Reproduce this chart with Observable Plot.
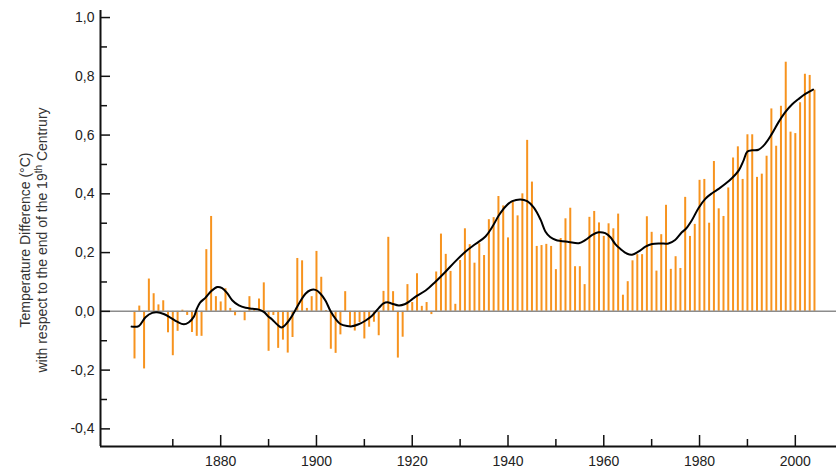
<!DOCTYPE html>
<html><head><meta charset="utf-8">
<script src="https://cdn.jsdelivr.net/npm/d3@7"></script>
<script src="https://cdn.jsdelivr.net/npm/@observablehq/plot@0.6"></script>
<style>
html,body{margin:0;padding:0;background:#fff;}
#chart{width:836px;height:470px;}
</style></head><body><div id="chart"></div>
<script>
// ---- data ----
const firstYear = 1862;
const anomalies = [
-0.162,0.018,-0.196,0.110,0.060,0.022,0.036,-0.073,-0.151,-0.068,
0.004,-0.014,-0.072,-0.085,-0.085,0.210,0.323,0.050,0.032,0.077,
0.010,-0.015,-0.004,-0.032,0.050,0.004,0.042,0.097,-0.136,-0.014,
-0.126,-0.098,-0.142,-0.089,0.180,0.172,0.010,0.050,0.204,0.116,
0.003,-0.129,-0.143,-0.080,0.067,-0.054,-0.067,-0.038,-0.094,-0.054,
-0.037,-0.083,0.068,0.252,0.067,-0.159,-0.088,0.091,0.030,0.128,
0.017,0.030,-0.011,0.134,0.263,0.194,0.136,0.024,0.173,0.281,
0.227,0.164,0.230,0.190,0.312,0.319,0.391,0.359,0.250,0.371,
0.325,0.400,0.582,0.440,0.221,0.224,0.228,0.221,0.142,0.248,
0.315,0.351,0.152,0.152,0.091,0.320,0.340,0.301,0.255,0.298,
0.281,0.331,0.055,0.101,0.172,0.193,0.193,0.322,0.269,0.137,
0.261,0.361,0.143,0.186,0.146,0.388,0.255,0.296,0.446,0.449,
0.300,0.510,0.349,0.323,0.420,0.522,0.560,0.449,0.601,0.601,
0.456,0.467,0.528,0.689,0.562,0.698,0.848,0.610,0.605,0.710,
0.807,0.803,0.753
];
const years = anomalies.map((_, i) => firstYear + i);

const smoothYears = [
1861.4,1862.9,1864.3,1865.7,1866.7,1868.1,1869.5,1870.9,1872.3,1873.3,
1874.4,1875.0,1875.7,1876.8,1878.1,1879.3,1880.3,1881.4,1882.4,1883.8,
1885.2,1886.6,1888.0,1889.0,1890.0,1890.7,1891.8,1892.7,1893.5,1894.6,
1895.6,1896.7,1897.7,1898.7,1899.8,1900.8,1901.9,1902.9,1904.0,1905.0,
1906.4,1907.4,1908.8,1910.2,1911.6,1913.0,1914.0,1914.8,1915.8,1917.2,
1918.4,1919.6,1920.7,1922.8,1924.8,1926.9,1929.0,1931.1,1933.2,1935.3,
1936.7,1938.1,1939.5,1940.9,1942.6,1944.0,1945.4,1946.8,1947.8,1948.8,
1950.0,1952.7,1954.8,1956.2,1957.6,1958.9,1960.3,1961.4,1962.4,1963.5,
1964.9,1965.9,1967.3,1968.7,1970.1,1971.8,1973.5,1974.9,1976.3,1977.2,
1978.4,1979.8,1981.2,1982.6,1984.0,1985.4,1986.8,1988.2,1989.2,1990.0,
1991.0,1992.3,1993.7,1995.1,1996.5,1997.9,1999.3,2000.7,2002.1,2003.7
];
const smoothValues = [
-0.052,-0.050,-0.020,-0.005,-0.003,-0.009,-0.021,-0.035,-0.044,-0.038,
-0.018,0.008,0.030,0.046,0.070,0.083,0.079,0.061,0.038,0.020,
0.012,0.009,0.006,-0.002,-0.018,-0.027,-0.045,-0.055,-0.046,-0.023,
0.005,0.036,0.060,0.072,0.073,0.061,0.036,0.002,-0.026,-0.043,
-0.050,-0.051,-0.044,-0.032,-0.015,0.011,0.027,0.031,0.026,0.020,
0.024,0.036,0.050,0.071,0.100,0.134,0.170,0.203,0.229,0.255,
0.287,0.327,0.357,0.375,0.381,0.375,0.353,0.312,0.272,0.253,
0.243,0.236,0.232,0.243,0.260,0.269,0.266,0.252,0.229,0.212,
0.196,0.193,0.204,0.220,0.229,0.231,0.231,0.243,0.269,0.282,
0.310,0.352,0.383,0.402,0.417,0.434,0.454,0.480,0.514,0.544,
0.548,0.550,0.570,0.604,0.644,0.678,0.704,0.723,0.740,0.755
];

const xMajorTicks = [1880,1900,1920,1940,1960,1980,2000];
const xMinorTicks = [1870,1890,1910,1930,1950,1970,1990];
const yMajorTicks = [-0.4,-0.2,0,0.2,0.4,0.6,0.8,1.0];
const yMinorTicks = [-0.3,-0.1,0.1,0.3,0.5,0.7,0.9];
const titleLine1 = "Temperature Difference (°C)";
const titleLine2a = "with respect to the end of the 19";
const titleLine2sup = "th";
const titleLine2b = " Centrury";

// ---- build ----
const bars = years.map((year, i) => ({year, value: anomalies[i]}));
const smooth = smoothYears.map((year, i) => ({year, value: smoothValues[i]}));
const xDomain = [1854.9, 2008.6];
const yDomain = [-0.46, 1.024];
const fmt = d => d.toFixed(1).replace(".", ",");
const font = "'Liberation Sans', Arial, Helvetica, sans-serif";

const plot = Plot.plot({
  width: 836, height: 470,
  marginLeft: 100, marginRight: 0, marginTop: 10, marginBottom: 24,
  x: {domain: xDomain, axis: null},
  y: {domain: yDomain, axis: null},
  style: {fontFamily: font, fontSize: "14px", color: "#222", background: "white", overflow: "visible"},
  marks: [
    Plot.ruleX(bars, {x: "year", y1: 0, y2: "value", stroke: "#F7931E", strokeWidth: 2}),
    Plot.ruleY([0], {stroke: "#8c8c8c", strokeWidth: 1.5}),
    Plot.line(smooth, {x: "year", y: "value", curve: "catmull-rom", stroke: "#000", strokeWidth: 2}),
    Plot.axisY({anchor: "left", ticks: yMajorTicks, tickSize: -10, tickPadding: 16, tickFormat: fmt, stroke: "#111", strokeWidth: 1.5, fill: "#222", label: null}),
    Plot.axisY({anchor: "left", ticks: yMinorTicks, tickSize: -7, tickPadding: 0, tickFormat: () => "", stroke: "#111", strokeWidth: 1.5, label: null}),
    Plot.axisX({anchor: "bottom", ticks: xMajorTicks, tickSize: -11, tickPadding: 21, tickFormat: d => String(d), stroke: "#111", strokeWidth: 1.5, fill: "#222", label: null}),
    Plot.axisX({anchor: "bottom", ticks: xMinorTicks, tickSize: -7, tickPadding: 0, tickFormat: () => "", stroke: "#111", strokeWidth: 1.5, label: null}),
    Plot.ruleX([xDomain[0]], {stroke: "#111", strokeWidth: 2}),
    Plot.ruleY([yDomain[0]], {stroke: "#111", strokeWidth: 2})
  ]
});

const svg = d3.select(plot);
const g = svg.append("g")
  .attr("font-family", font).attr("font-size", 14)
  .attr("fill", "#333").attr("text-anchor", "middle");
g.append("text").attr("transform", "translate(30,240) rotate(-90)").text(titleLine1);
const t2 = g.append("text").attr("transform", "translate(47,240) rotate(-90)");
t2.append("tspan").text(titleLine2a);
t2.append("tspan").attr("dy", -5).attr("font-size", 10).text(titleLine2sup);
t2.append("tspan").attr("dy", 5).text(titleLine2b);

document.getElementById("chart").appendChild(plot);
</script>
</body></html>
